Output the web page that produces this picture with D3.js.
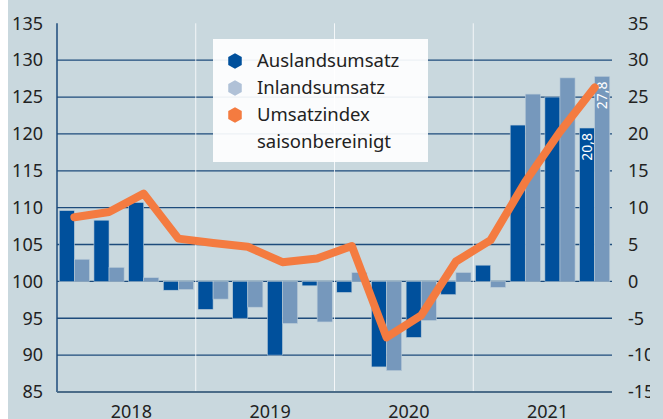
<!DOCTYPE html>
<html>
<head>
<meta charset="utf-8">
<script src="https://cdn.jsdelivr.net/npm/d3@7"></script>
<style>
  html, body { margin: 0; padding: 0; background: #fff; }
  svg { display: block; font-family: "Noto Sans", sans-serif; }
</style>
</head>
<body>
<svg></svg>
<script>
(function(){
    // Quarters 2018 Q1 .. 2021 Q4
    const quarters = ["2018Q1","2018Q2","2018Q3","2018Q4","2019Q1","2019Q2","2019Q3","2019Q4",
                      "2020Q1","2020Q2","2020Q3","2020Q4","2021Q1","2021Q2","2021Q3","2021Q4"];
    const years = ["2018", "2019", "2020", "2021"];

    // Change vs. previous year in % (right axis)
    const auslandsumsatz = [9.6, 8.3, 10.7, -1.2, -3.8, -5.0, -10.0, -0.6,
                            -1.5, -11.6, -7.6, -1.8, 2.2, 21.2, 25.0, 20.8];
    const inlandsumsatz  = [3.0, 1.9, 0.5, -1.1, -2.4, -3.5, -5.7, -5.5,
                            1.2, -12.1, -5.3, 1.2, -0.8, 25.4, 27.6, 27.8];
    // Seasonally adjusted turnover index (left axis)
    const umsatzindex    = [108.7, 109.4, 111.9, 105.8, 105.2, 104.7, 102.6, 103.1,
                            104.8, 92.4, 95.4, 102.7, 105.6, 113.5, 120.3, 126.3];

    const leftTicks = [85, 90, 95, 100, 105, 110, 115, 120, 125, 130, 135];
    const rightTicks = [-15, -10, -5, 0, 5, 10, 15, 20, 25, 30, 35];
    const labelled = { "2021Q4": true }; // bars carrying value labels

    const W = 663, H = 419;
    const plot = { left: 57, right: 612, top: 23.3, bottom: 392 };

    const colAus = "#00509c", colIn = "#7698bc", colIdx = "#f47b40";
    const bg = "#c9d8de", grid = "#1d4b7b";

    const svg = d3.select("svg").attr("width", W).attr("height", H);

    svg.append("rect").attr("x", 8).attr("y", 0)
        .attr("width", W - 8).attr("height", H).attr("fill", bg);

    // the original graphic is cropped a bit before the right edge
    svg.append("clipPath").attr("id", "clipR")
        .append("rect").attr("x", 0).attr("y", 0).attr("width", 650).attr("height", H);

    const yL = d3.scaleLinear().domain([85, 135]).range([plot.bottom, plot.top]);
    const yR = d3.scaleLinear().domain([-15, 35]).range([plot.bottom, plot.top]);

    const x = d3.scaleBand().domain(quarters)
        .range([plot.left, plot.right]).paddingInner(0.13).paddingOuter(0.065);
    const xs = d3.scaleBand().domain(["aus", "in"]).range([0, x.bandwidth()]);

    // horizontal gridlines
    svg.append("g").selectAll("line")
        .data(leftTicks.filter(d => d > 85 && d < 135))
        .enter().append("line")
        .attr("x1", plot.left).attr("x2", plot.right)
        .attr("y1", d => yL(d)).attr("y2", d => yL(d))
        .attr("stroke", grid).attr("stroke-width", 1.3);

    // year separators
    const yearEdge = y => x(y + "Q1") - x.step() * x.paddingInner() / 2;
    svg.append("g").selectAll("line")
        .data(years.slice(1))
        .enter().append("line")
        .attr("x1", d => yearEdge(d)).attr("x2", d => yearEdge(d))
        .attr("y1", plot.top).attr("y2", plot.bottom)
        .attr("stroke", "#ffffff").attr("stroke-opacity", 0.8).attr("stroke-width", 1);

    // bars
    const bars = svg.append("g");
    const series = [
        { key: "aus", vals: auslandsumsatz, color: colAus },
        { key: "in", vals: inlandsumsatz, color: colIn }
    ];
    series.forEach(s => {
        bars.selectAll(".bar-" + s.key)
            .data(quarters.map((q, i) => ({ q: q, v: s.vals[i] })))
            .enter().append("rect")
            .attr("class", "bar-" + s.key)
            .attr("x", d => x(d.q) + xs(s.key))
            .attr("width", xs.bandwidth())
            .attr("y", d => yR(Math.max(0, d.v)))
            .attr("height", d => Math.abs(yR(d.v) - yR(0)))
            .attr("fill", s.color)
            .attr("stroke", "#b9cbd8").attr("stroke-width", 0.6);

        // value labels inside selected bars
        bars.selectAll(".lab-" + s.key)
            .data(quarters.map((q, i) => ({ q: q, v: s.vals[i] })).filter(d => labelled[d.q]))
            .enter().append("text")
            .attr("transform", d => `translate(${x(d.q) + xs(s.key) + xs.bandwidth() / 2 + 5},${yR(d.v) + 5}) rotate(-90)`)
            .attr("text-anchor", "end")
            .attr("fill", "#ffffff")
            .style("font-size", "14px")
            .text(d => d3.format(".1f")(d.v).replace(".", ","));
    });

    // left axis line and baseline
    svg.append("line")
        .attr("x1", plot.left).attr("x2", plot.left)
        .attr("y1", plot.top).attr("y2", plot.bottom)
        .attr("stroke", grid).attr("stroke-width", 1.5);
    svg.append("line")
        .attr("x1", plot.left).attr("x2", plot.right)
        .attr("y1", plot.bottom).attr("y2", plot.bottom)
        .attr("stroke", "#4b6c88").attr("stroke-width", 2);

    // index line
    const line = d3.line()
        .x((d, i) => x(quarters[i]) + x.bandwidth() / 2)
        .y(d => yL(d));
    svg.append("path")
        .datum(umsatzindex)
        .attr("d", line)
        .attr("fill", "none")
        .attr("stroke", colIdx)
        .attr("stroke-width", 8)
        .attr("stroke-linejoin", "round")
        .attr("stroke-linecap", "round");

    // tick labels
    svg.append("g").selectAll("text")
        .data(leftTicks).enter().append("text")
        .attr("x", 43).attr("y", d => yL(d)).attr("dy", "0.35em")
        .attr("text-anchor", "end").attr("fill", "#222")
        .style("font-size", "18px").text(d => d);

    svg.append("g").attr("clip-path", "url(#clipR)")
        .selectAll("text")
        .data(rightTicks).enter().append("text")
        .attr("x", 628).attr("y", d => yR(d)).attr("dy", "0.35em")
        .attr("text-anchor", "start").attr("fill", "#222")
        .style("font-size", "18px").text(d => d);

    // year labels
    svg.append("g").selectAll("text")
        .data(years).enter().append("text")
        .attr("x", d => (x(d + "Q1") + x(d + "Q4") + x.bandwidth()) / 2 + 5)
        .attr("y", 418)
        .attr("text-anchor", "middle").attr("fill", "#222")
        .style("font-size", "18px").text(d => d);

    // legend
    const legendItems = [
        { label: ["Auslandsumsatz"], color: colAus },
        { label: ["Inlandsumsatz"], color: "#b0c1d7" },
        { label: ["Umsatzindex", "saisonbereinigt"], color: colIdx }
    ];
    const lg = svg.append("g").attr("transform", "translate(213,39)");
    lg.append("rect").attr("width", 215).attr("height", 123)
        .attr("fill", "#ffffff").attr("fill-opacity", 0.92);
    const hex = d3.range(6).map(k => {
        const a = Math.PI / 3 * k - Math.PI / 2;
        return [7.8 * Math.cos(a), 7.8 * Math.sin(a)];
    });
    const items = lg.selectAll("g.item").data(legendItems).enter().append("g")
        .attr("class", "item")
        .attr("transform", (d, i) => `translate(22,${22 + i * 27})`);
    items.append("polygon")
        .attr("points", hex.map(p => p.join(",")).join(" "))
        .attr("fill", d => d.color);
    items.each(function(d) {
        const g = d3.select(this);
        d.label.forEach((t, j) => {
            g.append("text").attr("x", 22).attr("y", j * 27).attr("dy", "0.35em")
                .attr("fill", "#222").style("font-size", "18.5px").text(t);
        });
    });
})();
</script>
</body>
</html>
